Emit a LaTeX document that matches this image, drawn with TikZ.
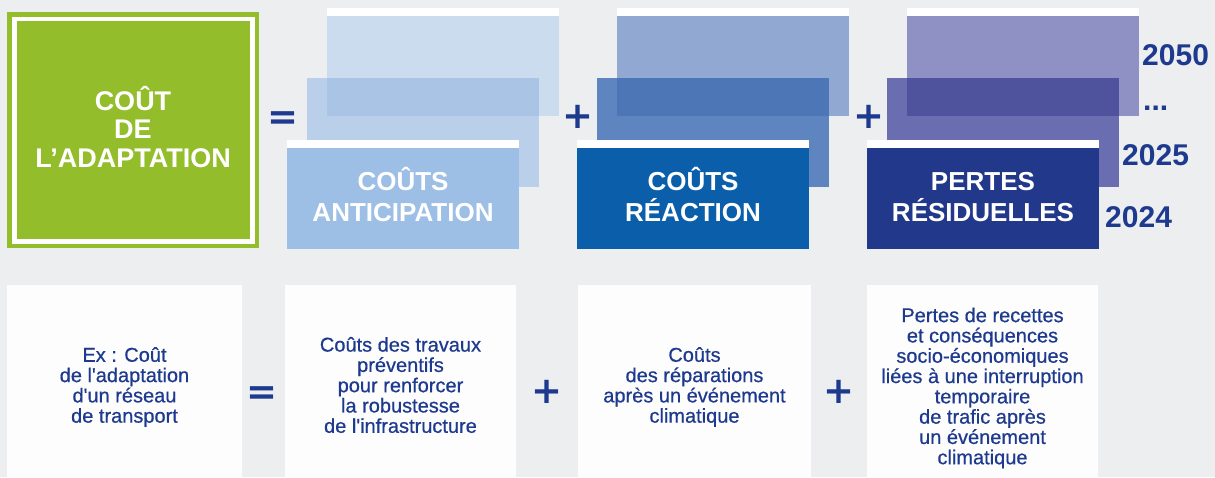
\documentclass[tikz,border=0pt]{standalone}
\usepackage{fontspec}
\setmainfont{Liberation Sans}
\newfontfamily\opfont{DejaVu Sans}
\newfontfamily\notefont{Liberation Sans}[FakeBold=0.6]

% page and headline colours
\definecolor{bg}{HTML}{EDEEEF}
\definecolor{leaf}{HTML}{93BD2B}
\definecolor{ink}{HTML}{1E3A8E}
\definecolor{paper}{HTML}{FDFDFE}
% per column: A = back (2050), B = middle (2025), C = overlap, D = front (2024)
\definecolor{antiA}{HTML}{CBDCEF}
\definecolor{antiB}{HTML}{BAD0EA}
\definecolor{antiC}{HTML}{A9C4E4}
\definecolor{antiD}{HTML}{9DBEE5}
\definecolor{reacA}{HTML}{91A8D3}
\definecolor{reacB}{HTML}{5F85C1}
\definecolor{reacC}{HTML}{4D76B7}
\definecolor{reacD}{HTML}{0B5EAA}
\definecolor{pertA}{HTML}{8F90C3}
\definecolor{pertB}{HTML}{6B6DB1}
\definecolor{pertC}{HTML}{4F539D}
\definecolor{pertD}{HTML}{22388A}

\begin{document}
\begin{tikzpicture}[x=1pt,y=-1pt,
  title/.style={text=white, font=\bfseries\fontsize{26}{31}\selectfont,
    align=center, inner sep=0pt},
  year/.style={text=ink, font=\bfseries\fontsize{30}{30}\selectfont,
    inner sep=0pt, anchor=base west},
  op/.style={text=ink, font=\opfont\bfseries\fontsize{37}{37}\selectfont,
    inner sep=0pt, anchor=base},
  note/.style={text=ink, font=\notefont\fontsize{20}{20.3}\selectfont,
    align=center, inner sep=0pt},
  card/.style={fill=paper},
]
\fill[bg] (0,0) rectangle (1215,477);
\useasboundingbox (0,0) rectangle (1215,477);

% total cost block
\fill[leaf] (7,12) rectangle (259,248);
\fill[white] (11.5,16.5) rectangle (254.5,243.5);
\fill[leaf] (16.5,21) rectangle (249.5,239);
\node[title, font=\bfseries\fontsize{27}{28.5}\selectfont] (total) at (133,127)
  {COÛT\\DE\\L'ADAPTATION};

% stacked yearly layers for each cost column
\foreach \x/\c in {287/anti, 577/reac, 867/pert} {
  \fill[\c A] (\x+40,16) rectangle (\x+272,116);
  \fill[white] (\x+40,8) rectangle (\x+272,16);
  \fill[\c B] (\x+20,78) rectangle (\x+252,187);
  \fill[\c C] (\x+40,78) rectangle (\x+252,116);
  \fill[white] (\x,140) rectangle (\x+232,148);
  \fill[\c D] (\x,148) rectangle (\x+232,249);
}

\node[title] (anticip) at (403,194.5) {COÛTS\\ANTICIPATION};
\node[title] (reaction) at (693,194.5) {COÛTS\\RÉACTION};
\node[title] (pertes) at (983,194.5) {PERTES\vphantom{Û}\\RÉSIDUELLES};

% years
\node[year] (y2050) at (1142,65) {2050};
\node[year] (ydots) at (1143,110) {...};
\node[year] (y2025) at (1122,165) {2025};
\node[year] (y2024) at (1105,227) {2024};

% operators of the headline equation
\node[op] (eqtop) at (283,129.5) {=};
\node[op] (plustopa) at (578,128.5) {+};
\node[op] (plustopb) at (869,128.5) {+};

% example cards
\fill[card] (7,285) rectangle (242,477);
\fill[card] (285,285) rectangle (516,477);
\fill[card] (578,285) rectangle (811,477);
\fill[card] (867,285) rectangle (1098,477);

\node[note] (exa) at (124.5,387)
  {Ex : Coût\\de l'adaptation\\d'un réseau\\de transport};
\node[note] (exb) at (400.5,385)
  {Coûts des travaux\\préventifs\\pour renforcer\\la robustesse\\de l'infrastructure};
\node[note] (exc) at (694.5,387)
  {Coûts\\des réparations\\après un événement\\climatique};
\node[note] (exd) at (982.5,388)
  {Pertes de recettes\\et conséquences\\socio-économiques\\liées à une interruption\\temporaire\\de trafic après\\un événement\\climatique};

\node[op] (eqbot) at (261.5,404.5) {=};
\node[op] (plusbota) at (546.5,403.5) {+};
\node[op] (plusbotb) at (839,403.5) {+};
\end{tikzpicture}
\end{document}
